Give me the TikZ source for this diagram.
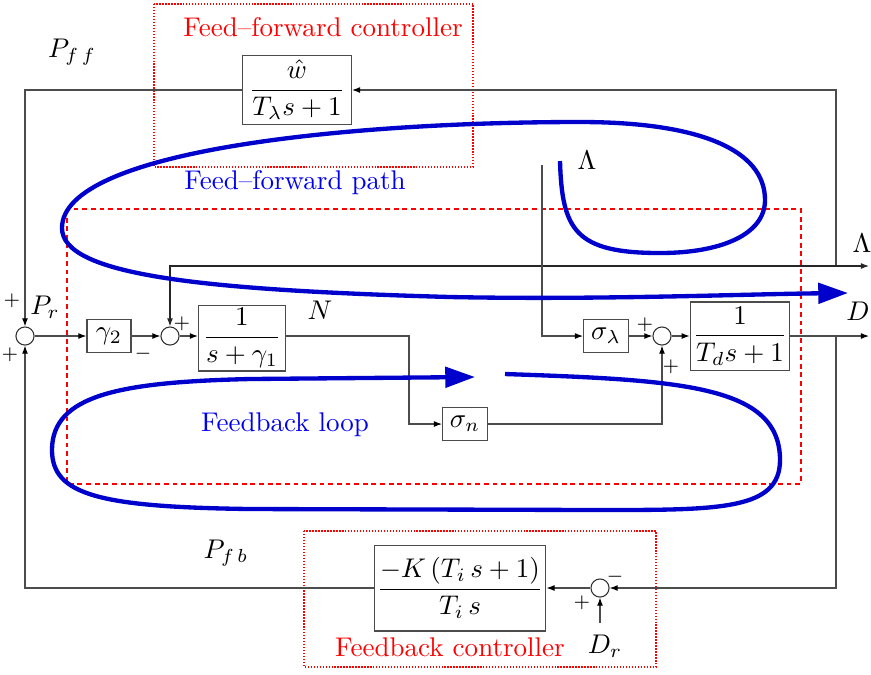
\documentclass[tikz,border=0pt]{standalone}
\usepackage{amsmath,amssymb}
\usetikzlibrary{arrows.meta,calc,positioning}
\definecolor{loopblue}{RGB}{0,0,205}
\definecolor{txtblue}{RGB}{0,0,240}

\begin{document}
\begin{tikzpicture}[x=0.37pt,y=-0.37pt,
  blk/.style={draw=black!70,inner sep=1pt},
  sumc/.style={draw=black!80,circle,minimum size=6.7pt,inner sep=0pt},
  sig/.style={draw=black!70,-{Latex[length=3pt,width=2.2pt,black]}},
  sgn/.style={font=\scriptsize,inner sep=0pt},
  ctrlbox/.style={draw=red,dash pattern=on 0.5pt off 0.6pt},
  flow/.style={loopblue,line width=1.6pt,-{Triangle[length=11pt,width=7.5pt]}}]
  \useasboundingbox (0,0) rectangle (871,674);

  \draw[ctrlbox] (154,4) rectangle (473,167);
  \draw[red,dash pattern=on 1.8pt off 1.4pt] (67,209) rectangle (801,484);
  \draw[ctrlbox] (304,531) rectangle (656,667);

  \node[sumc] (sumPr) at (25,336) {};
  \node[blk,minimum width=16.3pt,minimum height=12.2pt] (g2) at (109,336) {$\gamma_2$};
  \node[sumc] (sum2) at (170,336) {};
  \node[blk,minimum width=32.2pt,minimum height=24.4pt] (pl1) at (242,338) {$\dfrac{1}{s+\gamma_1}$};
  \node[blk,minimum width=16.6pt,minimum height=12.2pt] (sign) at (465,424) {$\sigma_n$};
  \node[blk,minimum width=16.6pt,minimum height=12.2pt] (slam) at (606,336) {$\sigma_\lambda$};
  \node[sumc] (sum3) at (662,336) {};
  \node[blk,minimum width=35.2pt,minimum height=25.2pt] (plD) at (740,336) {$\dfrac{1}{T_d s+1}$};
  \node[blk,minimum width=40.3pt,minimum height=25.5pt] (ffc) at (297,90) {$\dfrac{\hat{w}}{T_\lambda s+1}$};
  \node[blk,minimum width=61.4pt,minimum height=31.8pt] (fbc) at (460,588) {$\dfrac{-K\,(T_i\,s+1)}{T_i\,s}$};
  \node[sumc] (sumDr) at (600,588) {};

  \coordinate (lamB) at (836,266);
  \coordinate (lamOut) at (869,266);
  \coordinate (dB) at (836,336);
  \coordinate (dOut) at (869,336);
  \coordinate (lamIn) at (542,165);
  \coordinate (nC) at (409,336);
  \coordinate (drIn) at (600,623);

  \draw[sig] (ffc.west) -| (sumPr.north);
  \draw[sig] (lamB) |- (ffc.east);
  \draw[sig] (sumPr) -- (g2);
  \draw[sig] (g2) -- (sum2);
  \draw[sig] (sum2) -- (pl1.west |- sum2);
  \draw[{Latex[length=3pt,width=2.2pt]}-{Latex[length=3pt,width=2.2pt]},black!85] (sum2.north) |- (lamOut);
  \draw[sig] (pl1.east |- nC) -- (nC) |- (sign.west);
  \draw[sig] (sign.east) -| (sum3.south);
  \draw[sig] (lamIn) |- (slam.west);
  \draw[sig] (slam) -- (sum3);
  \draw[sig] (sum3) -- (plD);
  \draw[sig] (plD.east) -- (dOut);
  \draw[sig] (dB) |- (sumDr.east);
  \draw[sig] (drIn) -- (sumDr.south);
  \draw[sig] (sumDr.west) -- (fbc.east);
  \draw[sig] (fbc.west) -| (sumPr.south);

  \node[sgn] (pPr1) at (12,301) {$+$};
  \node[sgn] (pPr2) at (10,355) {$+$};
  \node[sgn] (m2) at (143,354) {$-$};
  \node[sgn] (p2) at (182,324) {$+$};
  \node[sgn] (p3a) at (645,325) {$+$};
  \node[sgn] (p3b) at (671,367) {$+$};
  \node[sgn] (mDr) at (615,577) {$-$};
  \node[sgn] (pDr) at (582,603) {$+$};

  \node (lPff) at (72,52) {$P_{f\,f}$};
  \node (lPr) at (45,307) {$P_r$};
  \node (lN) at (320,310) {$N$};
  \node (lLam1) at (587,160) {$\Lambda$};
  \node (lLam2) at (862,243) {$\Lambda$};
  \node (lD) at (858,311) {$D$};
  \node (lDr) at (605,646) {$D_r$};
  \node (lPfb) at (226,553) {$P_{f\,b}$};

  \node[red] (tFfc) at (323,27) {Feed--forward controller};
  \node[txtblue] (tFfp) at (295,183) {Feed--forward path};
  \node[txtblue] (tFbl) at (285,425) {Feedback loop};
  \node[red] (tFbc) at (450,647) {Feedback controller};

  \draw[flow] (560,161) .. controls (562,230) and (575,253) .. (660,253)
    .. controls (720,253) and (765,235) .. (765,200)
    .. controls (765,150) and (700,122) .. (580,122)
    .. controls (350,122) and (62,150) .. (62,228)
    .. controls (62,275) and (200,290) .. (450,297)
    .. controls (600,300) and (750,294) .. (848,293);
  \draw[flow] (505,374) .. controls (680,380) and (780,385) .. (780,460)
    .. controls (780,510) and (720,510) .. (600,510) -- (250,509)
    .. controls (100,507) and (52,495) .. (52,450)
    .. controls (52,395) and (120,382) .. (250,379) -- (475,377);
\end{tikzpicture}
\end{document}
